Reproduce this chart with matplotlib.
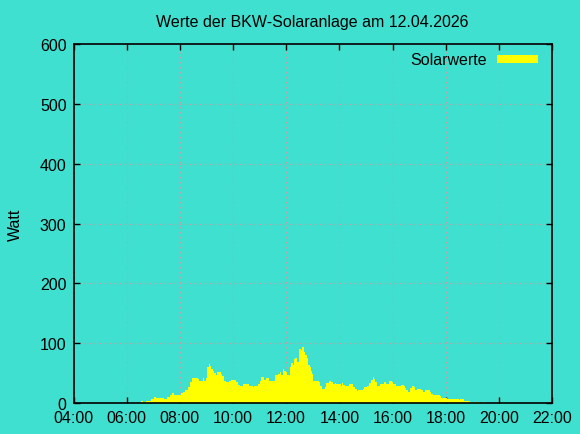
import matplotlib
matplotlib.use("Agg")
import matplotlib.pyplot as plt
import numpy as np

title = "Werte der BKW-Solaranlage am 12.04.2026"
ylabel = "Watt"
legend_label = "Solarwerte"
xtick_labels = ["04:00", "06:00", "08:00", "10:00", "12:00", "14:00",
                "16:00", "18:00", "20:00", "22:00"]
yticks = [0, 100, 200, 300, 400, 500, 600]

times = ["06:33", "06:37", "06:43", "06:56", "07:01", "07:07", "07:24", "07:32",
         "07:37", "07:42", "07:47", "08:02", "08:07", "08:12", "08:19", "08:23",
         "08:27", "08:32", "08:40", "08:44", "08:47", "08:53", "08:55", "09:00",
         "09:02", "09:05", "09:08", "09:11", "09:14", "09:18", "09:21", "09:25",
         "09:29", "09:33", "09:36", "09:40", "09:44", "09:50", "09:55", "10:07",
         "10:11", "10:16", "10:23", "10:31", "10:35", "10:37", "10:45", "10:48",
         "10:56", "11:00", "11:04", "11:07", "11:11", "11:15", "11:22", "11:25",
         "11:26", "11:30", "11:34", "11:41", "11:45", "11:49", "11:53", "11:56",
         "12:00", "12:03", "12:08", "12:12", "12:15", "12:18", "12:21", "12:24",
         "12:28", "12:30", "12:33", "12:36", "12:40", "12:42", "12:46", "12:49",
         "12:53", "12:55", "12:58", "13:01", "13:14", "13:17", "13:20", "13:22",
         "13:27", "13:29", "13:37", "13:42", "13:46", "13:50", "13:52", "14:03",
         "14:05", "14:09", "14:13", "14:22", "14:31", "14:35", "14:39", "14:43",
         "14:53", "14:56", "15:00", "15:03", "15:07", "15:11", "15:15", "15:18",
         "15:21", "15:24", "15:28", "15:32", "15:36", "15:41", "15:46", "15:53",
         "15:58", "16:02", "16:08", "16:20", "16:25", "16:29", "16:31", "16:36",
         "16:40", "16:44", "16:48", "16:51", "16:55", "17:04", "17:09", "17:14",
         "17:24", "17:28", "17:31", "17:47", "17:50", "18:03", "18:18", "18:30",
         "18:33", "18:41", "18:56", "19:15", "19:21", "19:28"]

watts = [3, 2, 4, 7, 10, 8, 7, 10,
         13, 17, 14, 16, 18, 22, 26, 35,
         41, 42, 40, 36, 37, 42, 37, 41,
         61, 65, 62, 56, 53, 50, 47, 51,
         52, 48, 45, 36, 35, 36, 38, 35,
         30, 28, 31, 32, 29, 28, 27, 28,
         31, 37, 44, 43, 39, 41, 36, 41,
         36, 37, 46, 49, 51, 46, 56, 54,
         51, 46, 60, 67, 64, 74, 75, 68,
         88, 91, 88, 93, 86, 80, 75, 64,
         60, 54, 49, 37, 35, 28, 25, 23,
         27, 33, 37, 35, 32, 33, 31, 28,
         33, 30, 29, 31, 27, 23, 20, 21,
         23, 26, 27, 29, 33, 39, 43, 40,
         35, 29, 28, 31, 32, 35, 32, 37,
         35, 31, 28, 30, 28, 25, 21, 19,
         25, 29, 27, 22, 23, 21, 19, 22,
         18, 15, 14, 11, 8, 7, 6, 4.5,
         6, 4, 2, 0, 2, 0]


def to_hours(s):
    h, m = s.split(":")
    return int(h) + int(m) / 60.0


x = np.array([to_hours(t) for t in times])
y = np.array(watts, dtype=float)

bg = "#40E0D0"
fs = 11.5
plt.rcParams["font.family"] = ["Liberation Sans", "DejaVu Sans"]
plt.rcParams["font.size"] = fs

fig = plt.figure(figsize=(5.8, 4.35), dpi=100, facecolor=bg)
ax = fig.add_axes([73.5 / 580, 1 - 404 / 435, (552 - 73.5) / 580, (404 - 45) / 435])
ax.set_facecolor(bg)

ax.fill_between(x, 0, y, step="post", color="#FFFF00", linewidth=0,
                antialiased=False, label=legend_label, zorder=2)

ax.set_xlim(4, 22)
ax.set_ylim(0, 600)
xt = [to_hours(t) for t in xtick_labels]
ax.set_xticks(xt)
ax.set_xticklabels(xtick_labels)
ax.set_yticks(yticks)

ax.grid(True, color="#c0a0a0", linestyle=(0, (1.5, 3)), linewidth=0.8, zorder=1)
ax.tick_params(direction="in", length=4, width=1, top=True, right=True,
               labelsize=fs, colors="black")
ax.tick_params(axis="x", pad=5)
ax.tick_params(axis="y", pad=5)
for sp in ax.spines.values():
    sp.set_linewidth(1.2)
    sp.set_color("black")
    sp.set_zorder(3)

ax.set_title(title, fontsize=fs, pad=13)
ax.set_ylabel(ylabel, fontsize=fs, labelpad=12)

leg = ax.legend(loc="upper right", frameon=False, fontsize=fs,
                markerfirst=False, handlelength=2.6, handleheight=0.4,
                borderaxespad=0.3, handletextpad=0.6,
                bbox_to_anchor=(0.995, 1.008))

fig.savefig("out.png", dpi=100, facecolor=bg)
